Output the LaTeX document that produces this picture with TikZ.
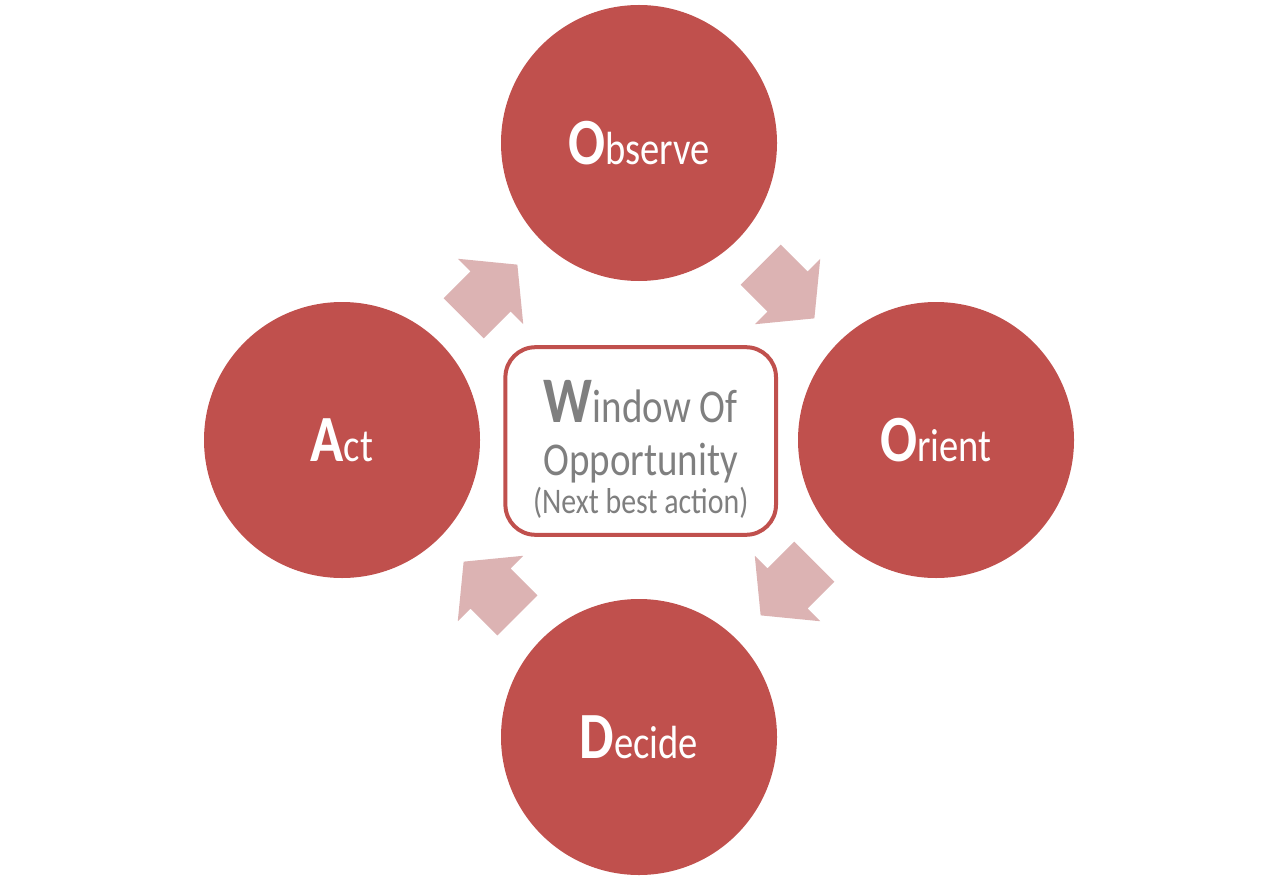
\documentclass[tikz,border=0pt]{standalone}
\usepackage{fontspec}
\setmainfont{Carlito}[FakeStretch=0.83]
\usetikzlibrary{calc}
\definecolor{oodared}{RGB}{192,80,77}
\definecolor{oodapink}{RGB}{220,179,179}
\definecolor{oodagray}{RGB}{127,127,127}
\newcommand\initial[1]{{\fontsize{33}{36}\selectfont\bfseries #1}}

\begin{document}
\begin{tikzpicture}[x=0.5pt,y=0.5pt,
  phase/.style={circle, fill=oodared, minimum size=138pt, inner sep=0pt, text=white, font=\fontsize{23.25}{28}\selectfont},
  window/.style={draw=oodared, line width=2pt, rounded corners=15pt, minimum width=135.3pt, minimum height=93.8pt},
  window text/.style={text=oodagray, align=center, inner sep=0pt, font=\fontsize{23.5}{26.5}\selectfont},
  cycle arrow/.pic={\fill[oodapink] (-38,-28.3) -- (0,-28.3) -- (0,-46.3) -- (38,0) -- (0,46.3) -- (0,28.3) -- (-38,28.3) -- cycle;}]
\useasboundingbox (0,0) rectangle (1278,880);
\node[phase] (observe) at (639,737) {\initial{O}bserve};
\node[phase] (orient) at (936,440) {\initial{O}rient};
\node[phase] (decide) at (639,143) {\initial{D}ecide};
\node[phase] (act) at (342,440) {\initial{A}ct};
% centre box
\node[window] (window) at (640.7,439) {};
\node[window text] (opportunity) at ([yshift=-4pt]window.center) {{\fontsize{32.5}{29}\selectfont\bfseries W}indow Of\\Opportunity\\[-7.5pt]{\fontsize{18}{16}\selectfont (Next best action)}};
% arrows round the loop
\pic[rotate=45] at ($(act)!0.5!(observe)$) {cycle arrow};
\pic[rotate=-45] at ($(observe)!0.5!(orient)$) {cycle arrow};
\pic[rotate=-135] at ($(orient)!0.5!(decide)$) {cycle arrow};
\pic[rotate=135] at ($(decide)!0.5!(act)$) {cycle arrow};
\end{tikzpicture}
\end{document}
